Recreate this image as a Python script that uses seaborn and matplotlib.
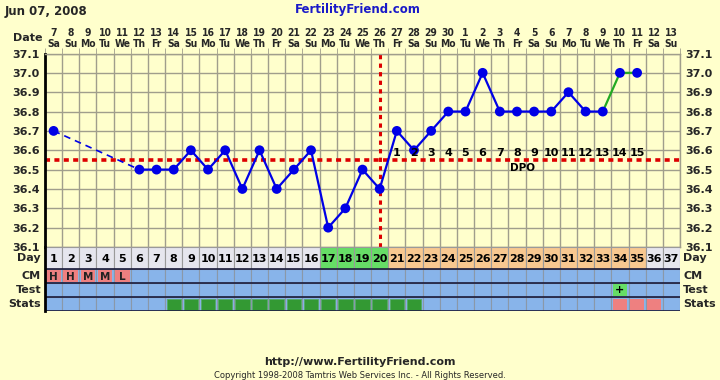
import numpy as np
import pandas as pd
import matplotlib
matplotlib.use("Agg")
import matplotlib.pyplot as plt
import seaborn as sns

# ---------------- data ----------------
days = list(range(1, 38))
dates = list(range(7, 31)) + list(range(1, 14))
weekdays = ["Sa", "Su", "Mo", "Tu", "We", "Th", "Fr"] * 6
weekdays = weekdays[:37]

temp_days = [1, 6, 7, 8, 9, 10, 11, 12, 13, 14, 15, 16, 17, 18, 19, 20, 21, 22, 23,
             24, 25, 26, 27, 28, 29, 30, 31, 32, 33, 34, 35]
temps = [36.7, 36.5, 36.5, 36.5, 36.6, 36.5, 36.6, 36.4, 36.6, 36.4, 36.5, 36.6, 36.2,
         36.3, 36.5, 36.4, 36.7, 36.6, 36.7, 36.8, 36.8, 37.0, 36.8, 36.8, 36.8, 36.8,
         36.9, 36.8, 36.8, 37.0, 37.0]

y_ticks = [36.1, 36.2, 36.3, 36.4, 36.5, 36.6, 36.7, 36.8, 36.9, 37.0, 37.1]
coverline = 36.55
ovulation_day = 20
fertile_days = [17, 18, 19, 20]
luteal_days = list(range(21, 36))
dpo_labels = [str(i) for i in range(1, 16)]

cm_days = [1, 2, 3, 4, 5]
cm_vals = ["H", "H", "M", "M", "L"]
test_days = [34]
test_vals = ["+"]
stats_green_days = list(range(8, 23))
stats_red_days = [34, 35, 36]

# ---------------- style ----------------
BG = "#FFFFCC"
GRID = "#a09e8c"
BLUE = "#0000e6"
GREEN_LINE = "#22aa22"
RED = "#dd0000"
ROW_BLUE = "#88b4ea"
DAY_GRAY = "#e6e6ee"
DAY_GREEN = "#66dd66"
DAY_ORANGE = "#f8c890"
SALMON = "#ee8080"
DARK_GREEN = "#339933"

sns.set_style("white")
plt.rcParams["font.family"] = ["DejaVu Sans"]
plt.rcParams["font.weight"] = "bold"

W, H = 720, 380
fig = plt.figure(figsize=(7.2, 3.8), dpi=100)
fig.patch.set_facecolor(BG)


def rect(x0, y0, x1, y1):
    return [x0 / W, 1 - y1 / H, (x1 - x0) / W, (y1 - y0) / H]


def ftext(x, y, s, **kw):
    fig.text(x / W, 1 - y / H, s, **kw)


# ---------------- main chart ----------------
ax = fig.add_axes(rect(45, 53.5, 680, 247))
ax.set_facecolor(BG)
ax.set_xlim(0.5, 37.5)
ax.set_ylim(36.1, 37.1)

ax.set_xticks(days)
ax.set_xticklabels([f"{d}\n{w}" for d, w in zip(dates, weekdays)],
                   fontsize=7.4, fontweight="bold", linespacing=1.15,
                   fontstretch="condensed")
ax.set_xticks(np.arange(0.5, 38, 1), minor=True)
ax.xaxis.tick_top()
ax.tick_params(axis="x", which="major", length=0, pad=3)
ax.tick_params(axis="x", which="minor", length=4, color=GRID, top=True, bottom=False)
ax.set_yticks(y_ticks)
ax.set_yticklabels([f"{v:.1f}" for v in y_ticks], fontsize=8, fontweight="bold")
ax.tick_params(axis="y", length=0, pad=4, labelleft=True, labelright=True)
ax.grid(which="minor", axis="x", color=GRID, lw=1)
ax.grid(which="major", axis="y", color=GRID, lw=1)
ax.grid(which="major", axis="x", visible=False)
for s in ["top", "right", "bottom"]:
    ax.spines[s].set_color(GRID)
    ax.spines[s].set_linewidth(1)
ax.spines["left"].set_color("black")
ax.spines["left"].set_linewidth(2)

df = pd.DataFrame({"day": temp_days, "temp": temps})
dash_seg = df[df.day.isin([1, 6])]
blue_seg = df[(df.day >= 6) & (df.day <= 33)]
green_seg = df[df.day >= 33]

ax.axhline(coverline, color=RED, lw=2.6, ls=(0, (1.4, 1.2)), zorder=2)
ax.axvline(ovulation_day, color=RED, lw=2.2, ls=(0, (1.4, 1.4)), zorder=2, clip_on=False)

sns.lineplot(data=dash_seg, x="day", y="temp", ax=ax, color=BLUE, lw=1.2,
             linestyle=(0, (4, 3)), zorder=3)
sns.lineplot(data=blue_seg, x="day", y="temp", ax=ax, color=BLUE, lw=1.6, zorder=3)
sns.lineplot(data=green_seg, x="day", y="temp", ax=ax, color=GREEN_LINE, lw=1.6, zorder=3)
sns.scatterplot(data=df, x="day", y="temp", ax=ax, color=BLUE, s=50,
                edgecolor="none", zorder=4)
ax.set_xlabel("")
ax.set_ylabel("")

for d, lab in zip(luteal_days, dpo_labels):
    ax.text(d, 36.585, lab, ha="center", va="center", fontsize=8,
            fontweight="bold", color="black", zorder=5)
ax.text(28.3, 36.51, "DPO", ha="center", va="center", fontsize=7.5,
        fontweight="bold", color="black", zorder=5)

# ---------------- table rows ----------------
tb = fig.add_axes(rect(45, 247, 680, 311))
tb.set_xlim(0.5, 37.5)
tb.set_ylim(64, 0)
tb.set_facecolor(BG)
for s in ["top", "right", "bottom"]:
    tb.spines[s].set_visible(False)
tb.spines["left"].set_color("black")
tb.spines["left"].set_linewidth(2)
tb.set_xticks([])
tb.set_yticks([])

day_colors = []
for d in days:
    if d in fertile_days:
        day_colors.append(DAY_GREEN)
    elif d in luteal_days:
        day_colors.append(DAY_ORANGE)
    else:
        day_colors.append(DAY_GRAY)

tb.bar(days, 22, bottom=0, width=1, color=day_colors, edgecolor="#9a9a9a", lw=0.8)
for row_bottom in [22, 36, 50]:
    tb.bar(days, 14, bottom=row_bottom, width=1, color=ROW_BLUE,
           edgecolor="#8a98a8", lw=0.8)
for d in days:
    tb.text(d, 11.5, str(d), ha="center", va="center", fontsize=8,
            fontweight="bold", color="black")

tb.bar(cm_days, 12, bottom=23, width=0.86, color=SALMON, lw=0)
for d, v in zip(cm_days, cm_vals):
    tb.text(d, 29.5, v, ha="center", va="center", fontsize=7.5,
            fontweight="bold", color="#222222")

tb.bar(test_days, 12, bottom=37, width=0.86, color=DAY_GREEN, lw=0)
for d, v in zip(test_days, test_vals):
    tb.text(d, 43, v, ha="center", va="center", fontsize=8,
            fontweight="bold", color="black")

tb.bar(stats_green_days, 11, bottom=51.5, width=0.84, color=DARK_GREEN,
       edgecolor="#55aa66", lw=0.6)
tb.bar(stats_red_days, 11, bottom=51.5, width=0.84, color=SALMON, lw=0)

for yl in [22, 36, 50, 64]:
    tb.axhline(yl, color="#1a1a3a", lw=1.2)

# ---------------- texts ----------------
ftext(5, 11, "Jun 07, 2008", fontsize=8.5, fontweight="bold", va="center")
ftext(358, 10, "FertilityFriend.com", fontsize=8.5, fontweight="bold",
      color="#1a1ac8", ha="center", va="center")
ftext(42, 38, "Date", fontsize=8, fontweight="bold", ha="right", va="center")

for lab, y in [("Day", 258), ("CM", 276), ("Test", 290), ("Stats", 304)]:
    ftext(41, y, lab, fontsize=8, fontweight="bold", ha="right", va="center")
    ftext(683, y, lab, fontsize=8, fontweight="bold", ha="left", va="center")

ftext(360, 362, "http://www.FertilityFriend.com", fontsize=8, fontweight="bold",
      ha="center", va="center")
ftext(360, 376, "Copyright 1998-2008 Tamtris Web Services Inc. - All Rights Reserved.",
      fontsize=6, fontweight="normal", ha="center", va="center")

fig.savefig("out.png", dpi=100, facecolor=BG)
